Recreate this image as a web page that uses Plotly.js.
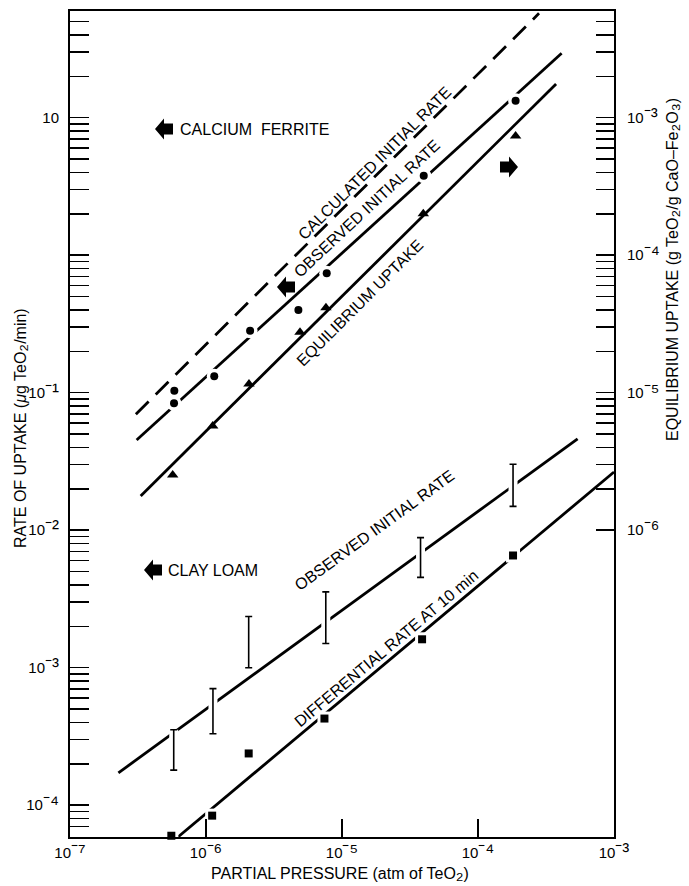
<!DOCTYPE html>
<html><head><meta charset="utf-8">
<script src="https://cdn.plot.ly/plotly-3.0.1.min.js"></script>
<style>html,body{margin:0;padding:0;background:#fff}#chart{width:689px;height:886px}</style>
</head><body><div id="chart"></div>
<script>
// ---- Calcium ferrite: observed initial rate (circles, left axis, ug TeO2/min)
const xCircle = [5.85e-7, 5.82e-7, 1.15e-6, 2.11e-6, 4.78e-6, 7.72e-6, 3.99e-5, 1.89e-4];
const yCircle = [0.1035, 0.0837, 0.132, 0.282, 0.399, 0.738, 3.79, 13.3];
// ---- Calcium ferrite: equilibrium uptake (triangles, right axis, g TeO2/g CaO-Fe2O3)
const xTri = [5.69e-7, 1.12e-6, 2.07e-6, 4.91e-6, 7.62e-6, 3.96e-5, 1.89e-4];
const yTri = [2.52e-6, 5.73e-6, 1.156e-5, 2.75e-5, 4.15e-5, 2.0e-4, 7.36e-4];
// ---- Clay loam: differential rate at 10 min (squares, left axis)
const xSq = [5.56e-7, 1.11e-6, 2.06e-6, 7.43e-6, 3.88e-5, 1.81e-4];
const ySq = [6.0e-5, 8.4e-5, 2.38e-4, 4.27e-4, 1.61e-3, 6.55e-3];
// ---- Clay loam: observed initial rate ranges (error bars, left axis)
const xBar = [5.79e-7, 1.125e-6, 2.06e-6, 7.6e-6, 3.78e-5, 1.81e-4];
const barLow = [1.80e-4, 3.31e-4, 1.0e-3, 1.50e-3, 4.54e-3, 1.49e-2];
const barHigh = [3.54e-4, 7.05e-4, 2.36e-3, 3.56e-3, 8.83e-3, 3.02e-2];
// ---- Fitted lines (end points)
const calcLineX = [3.05e-7, 2.81e-4], calcLineY = [0.0697, 57.4];
const obsLineX = [3.09e-7, 4.12e-4], obsLineY = [0.0453, 29.4];
const eqLineX = [3.31e-7, 3.75e-4], eqLineY = [1.775e-6, 1.76e-3];
const clayObsX = [2.27e-7, 5.4e-4], clayObsY = [1.72e-4, 0.0461];
const diffX = [6.25e-7, 1.0e-3], diffY = [5.9e-5, 0.0265];
// ---- Tick labels (exponents)
const xTickVals = [1e-7, 1e-6, 1e-5, 1e-4, 1e-3];
const xTickExp = ['\u207B\u2077', '\u207B\u2076', '\u207B\u2075', '\u207B\u2074', '\u207B\u00B3'];
const leftLabeled = [1e-4, 1e-3, 1e-2, 1e-1, 10];
const leftTickExp = ['\u207B\u2074', '\u207B\u00B3', '\u207B\u00B2', '\u207B\u00B9', ''];
const rightLabeled = [1e-6, 1e-5, 1e-4, 1e-3];
const rightTickExp = ['\u207B\u2076', '\u207B\u2075', '\u207B\u2074', '\u207B\u00B3'];

const SUP = t => t ? '<span style="font-size:21px">' + t + '</span>' : '';
const SUB = t => '<span style="font-size:20px">' + t + '</span>';
const tickLabel = e => '10' + SUP(e);

function logTicks(lo, hi) {
  const v = [];
  for (let e = -9; e <= 3; e++) for (let m = 1; m <= 9; m++) {
    const val = m * Math.pow(10, e);
    if (val >= lo && val <= hi) v.push(val);
  }
  return v;
}
function notIn(vals, labeled) {
  return vals.filter(v => !labeled.some(l => Math.abs(Math.log10(l) - Math.log10(v)) < 1e-6));
}
const leftMinor = notIn(logTicks(6.5e-5, 55), leftLabeled);
const rightMinor = notIn(logTicks(0.99e-6, 5.5e-3), rightLabeled);

// plot area in pixels
const L = 70, R = 614, T = 11, B = 837;
const PW = R - L, PH = B - T;
function px(x) { return (x - L) / PW; }
function py(y) { return (B - y) / PH; }

function arrow(tx, ty, dir) {
  const hl = 9, hh = 10.5, bl = 9, bh = 5.5;
  const s = dir; // -1 left-pointing (tip at left), +1 right-pointing
  const pts = [[tx, ty], [tx - s*hl, ty - hh], [tx - s*hl, ty - bh], [tx - s*(hl+bl), ty - bh],
               [tx - s*(hl+bl), ty + bh], [tx - s*hl, ty + bh], [tx - s*hl, ty + hh]];
  const d = pts.map((p, i) => (i ? 'L' : 'M') + px(p[0]).toFixed(5) + ',' + py(p[1]).toFixed(5)).join(' ') + ' Z';
  return {type: 'path', xref: 'paper', yref: 'paper', path: d, fillcolor: '#000', line: {width: 0}};
}

const FONT = 'Liberation Sans, Arial, sans-serif';
const lineStyle = {color: '#000', width: 2.8};
const barMid = xBar.map((v, i) => Math.sqrt(barLow[i] * barHigh[i]));
const barUp = barHigh.map((h, i) => h - barMid[i]);
const barDown = barLow.map((l, i) => barMid[i] - l);

const traces = [
  {x: calcLineX, y: calcLineY, mode: 'lines', line: {color: '#000', width: 2.8, dash: '18px,10px'}},
  {x: obsLineX, y: obsLineY, mode: 'lines', line: lineStyle},
  {x: eqLineX, y: eqLineY, yaxis: 'y2', mode: 'lines', line: lineStyle},
  {x: clayObsX, y: clayObsY, mode: 'lines', line: lineStyle},
  {x: diffX, y: diffY, mode: 'lines', line: lineStyle},
  // white halos making the line gaps around symbols
  {x: xCircle, y: yCircle, mode: 'markers', marker: {symbol: 'circle', size: 15, color: '#fff'}},
  {x: xSq, y: ySq, mode: 'markers', cliponaxis: false, marker: {symbol: 'square', size: 14, color: '#fff'}},
  {x: xBar, y: barMid, mode: 'markers', marker: {size: 1, opacity: 0},
   error_y: {type: 'data', symmetric: false, array: barUp, arrayminus: barDown,
     color: '#fff', thickness: 9, width: 0}},
  // symbols
  {x: xCircle, y: yCircle, mode: 'markers', marker: {symbol: 'circle', size: 8, color: '#000'}},
  {x: xTri, y: yTri, yaxis: 'y2', mode: 'markers', marker: {symbol: 'triangle-up', size: 10, color: '#000'}},
  {x: xSq, y: ySq, mode: 'markers', cliponaxis: false, marker: {symbol: 'square', size: 8, color: '#000'}},
  {x: xBar, y: barMid, mode: 'markers', marker: {size: 1, opacity: 0},
   error_y: {type: 'data', symmetric: false, array: barUp, arrayminus: barDown,
     color: '#000', thickness: 1.6, width: 3.5}}
];

function ann(text, x, y, opts) {
  return Object.assign({text: text, xref: 'paper', yref: 'paper', x: px(x), y: py(y), showarrow: false,
    xanchor: 'center', yanchor: 'middle', font: {family: FONT, size: 16, color: '#000'}}, opts || {});
}

const tickCommon = {ticks: 'inside', tickwidth: 1.5, tickcolor: '#000', showline: true, linewidth: 2,
  linecolor: '#000', showgrid: false, zeroline: false, tickfont: {family: FONT, size: 15, color: '#000'}};

const layout = {
  width: 689, height: 886,
  margin: {l: L, r: 689 - R, t: T, b: 886 - B, pad: 0},
  paper_bgcolor: '#fff', plot_bgcolor: '#fff',
  showlegend: false, hovermode: false,
  font: {family: FONT, size: 15, color: '#000'},
  xaxis: Object.assign({}, tickCommon, {type: 'log', range: [-7, -3], tickmode: 'array', tickvals: xTickVals,
    ticktext: xTickExp.map(tickLabel), ticklen: 18, mirror: true, ticklabelstandoff: 1}),
  yaxis: Object.assign({}, tickCommon, {type: 'log', range: [-4.231, 1.776], tickmode: 'array',
    tickvals: leftLabeled, ticktext: leftTickExp.map(tickLabel), ticklen: 19, ticklabelstandoff: 6,
    minor: {tickmode: 'array', tickvals: leftMinor, ticks: 'inside', ticklen: 19, tickwidth: 1.5, tickcolor: '#000', showgrid: false}}),
  yaxis2: Object.assign({}, tickCommon, {type: 'log', overlaying: 'y', side: 'right', range: [-8.231, -2.224],
    tickmode: 'array', tickvals: rightLabeled, ticktext: rightTickExp.map(tickLabel), ticklen: 18, ticklabelstandoff: 8,
    minor: {tickmode: 'array', tickvals: rightMinor, ticks: 'inside', ticklen: 18, tickwidth: 1.5, tickcolor: '#000', showgrid: false}}),
  shapes: [arrow(155, 129, -1), arrow(144, 570, -1), arrow(277, 287, -1), arrow(518, 167, 1)],
  annotations: [
    ann('CALCIUM  FERRITE', 178, 130, {xanchor: 'left'}),
    ann('CLAY LOAM', 166, 570, {xanchor: 'left'}),
    ann('CALCULATED INITIAL RATE', 374, 163, {textangle: -45}),
    ann('OBSERVED INITIAL RATE', 367, 209, {textangle: -43}),
    ann('EQUILIBRIUM UPTAKE', 359, 303, {textangle: -45}),
    ann('OBSERVED INITIAL RATE', 374, 530, {textangle: -36}),
    ann('DIFFERENTIAL RATE AT 10 min', 386, 648, {textangle: -40}),
    ann('RATE OF UPTAKE (<i>\u03bc</i>g TeO' + SUB('\u2082') + '/min)', 19, 428, {textangle: -90}),
    ann('EQUILIBRIUM UPTAKE (g TeO' + SUB('\u2082') + '/g CaO\u2013Fe' + SUB('\u2082') + 'O' + SUB('\u2083') + ')', 671, 270, {textangle: -90}),
    ann('PARTIAL PRESSURE (atm of TeO' + SUB('\u2082') + ')', 340, 872)
  ]
};

Plotly.newPlot('chart', traces, layout, {displayModeBar: false, staticPlot: true});
</script></body></html>
